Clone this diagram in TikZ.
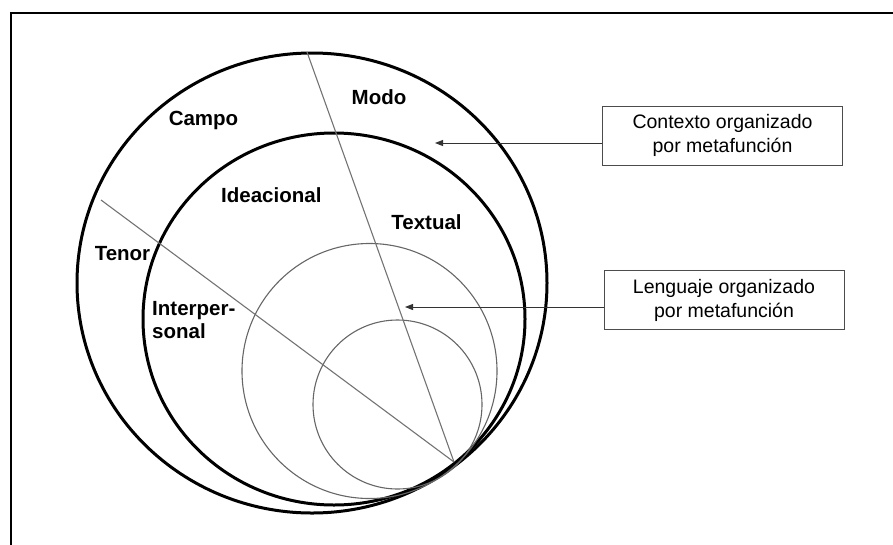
\documentclass[tikz,border=0pt]{standalone}
\usepackage{fontspec}
\setmainfont{Liberation Sans}
\usetikzlibrary{arrows.meta}
\begin{document}
\begin{tikzpicture}[x=1pt,y=-1pt,
  ring/.style={draw=black, line width=3pt},
  thinring/.style={draw=black!60, line width=1.1pt},
  divider/.style={draw=black!55, line width=1.1pt},
  label/.style={font=\fontsize{20.5}{23}\selectfont\bfseries, inner sep=0pt},
  infobox/.style={draw=black!70, line width=1pt, font=\fontsize{19.5}{24}\selectfont,
    align=center, minimum width=240pt, minimum height=59pt, inner sep=0pt},
  pointer/.style={draw=black!80, line width=1pt, -{Triangle[length=8pt,width=6pt]}}
]
\useasboundingbox (0,0) rectangle (893,544);

% frame (left and top edges)
\draw[line width=2pt] (11,560) -- (11,13) -- (910,13);

% nested rings
\draw[ring] (312,283) ellipse [x radius=235pt, y radius=230pt];
\draw[ring] (334,319) ellipse [x radius=191pt, y radius=186pt];
\draw[thinring] (369.5,371) circle [radius=127.5pt];
\draw[thinring] (397.5,404.5) circle [radius=84.5pt];

% metafunction dividers
\coordinate (T) at (454,462);
\coordinate (modoTop) at (307,52);
\coordinate (tenorEnd) at (101,200);
\draw[divider] (modoTop) -- (T);
\draw[divider] (tenorEnd) -- (T);

% context labels
\node[label, anchor=base] (campo) at (203.5,125) {Campo};
\node[label, anchor=base] (modo) at (379,104) {Modo};
\node[label, anchor=base] (tenor) at (122.5,260) {Tenor};

% language labels
\node[label, anchor=base west] (ideac) at (221,202) {Ideacional};
\node[label, anchor=base] (textual) at (426.5,229) {Textual};
\node[label, anchor=base west] (inter1) at (152,315) {Interper-};
\node[label, anchor=base west] (inter2) at (152,338) {sonal};

% explanatory boxes
\node[infobox] (box1) at (722.5,135.5) {Contexto organizado\\por metafunción};
\node[infobox] (box2) at (724,300) {Lenguaje organizado\\por metafunción};

\coordinate (tipA) at (435,143);
\coordinate (tipB) at (405,307);
\draw[pointer] (box1.west |- tipA) -- (tipA);
\draw[pointer] (box2.west |- tipB) -- (tipB);
\end{tikzpicture}
\end{document}
